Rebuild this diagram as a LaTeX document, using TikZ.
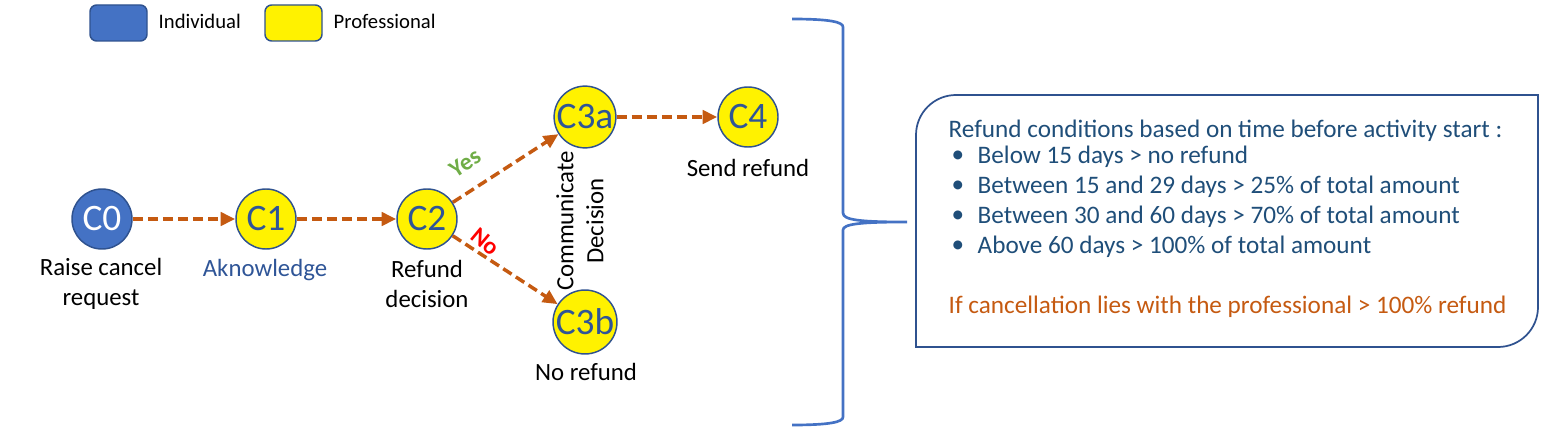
\documentclass[tikz,border=0pt]{standalone}
\usepackage{fontspec}
\setmainfont{Carlito}
\usetikzlibrary{arrows.meta}
\definecolor{indivblue}{HTML}{4472C4}
\definecolor{edgeblue}{HTML}{2F528F}
\definecolor{textblue}{HTML}{2F5597}
\definecolor{boxtext}{HTML}{1F4E79}
\definecolor{flowor}{HTML}{C55A11}
\definecolor{yesgreen}{HTML}{70AD47}
\tikzset{
  indiv/.style={circle, fill=indivblue, draw=edgeblue, line width=1.1pt, minimum size=45pt, inner sep=0pt, text=white, font=\fontsize{28}{30}\selectfont},
  prof/.style={circle, fill=yellow, draw=edgeblue, line width=1.1pt, minimum size=45pt, inner sep=0pt, text=textblue, font=\fontsize{28}{30}\selectfont},
  caption/.style={align=center, font=\fontsize{18.6}{22.5}\selectfont},
  flow/.style={draw=flowor, line width=2.6pt, dash pattern=on 7.5pt off 3.8pt, -{Triangle[length=11pt,width=10pt]}},
  boxline/.style={anchor=west, text=boxtext, font=\fontsize{18.9}{22.5}\selectfont}
}
\begin{document}
\begin{tikzpicture}[x=0.75pt,y=0.75pt]
\useasboundingbox (0,0) rectangle (1556,426);
% legend
\draw[fill=indivblue, draw=edgeblue, line width=1.1pt, rounded corners=5pt] (90,385) rectangle (147,421);
\node[anchor=west, font=\fontsize{15.5}{18}\selectfont] (lindiv) at (154,405) {Individual};
\draw[fill=yellow, draw=edgeblue, line width=1.1pt, rounded corners=5pt] (265,385) rectangle (322,421);
\node[anchor=west, font=\fontsize{15.5}{18}\selectfont] (lprof) at (329,405) {Professional};
% steps
\node[indiv] (C0) at (102,207) {C0};
\node[prof] (C1) at (266,207) {C1};
\node[prof] (C2) at (427,207) {C2};
\node[prof] (C3a) at (585,309) {C3a};
\node[prof] (C4) at (748,309) {C4};
\node[prof] (C3b) at (585,104) {C3b};
\node[caption] (t0) at (101,142) {Raise cancel\\request};
\node[caption, text=textblue] (t1) at (265,156) {Aknowledge};
\node[caption] (t2) at (427,142) {Refund\\decision};
\node[caption] (t4) at (748,258) {Send refund};
\node[caption] (t3b) at (586,54) {No refund};
\node[caption, rotate=90] (t3) at (580,205) {Communicate\\Decision};
% connectors
\draw[flow] (C0) -- (C1);
\draw[flow] (C1) -- (C2);
\draw[flow] (C2) -- (C3a);
\draw[flow] (C2) -- (C3b);
\draw[flow] (C3a) -- (C4);
\node[text=yesgreen, rotate=33, inner sep=0pt, font=\fontsize{18}{18}\selectfont\bfseries] (yes) at (465,263) {Yes};
\node[text=red, rotate=-40, inner sep=0pt, font=\fontsize{18}{18}\selectfont\bfseries] (no) at (485,184) {No};
% brace
\draw[indivblue, line width=2pt] (792,407) .. controls (830,407) and (843,404) .. (843,399) -- (843,213)
  .. controls (843,206) and (860,204) .. (907,204)
  .. controls (860,204) and (843,202) .. (843,196) -- (843,9)
  .. controls (843,4) and (830,1) .. (792,1);
% conditions box
\draw[edgeblue, line width=1.3pt] (916,79) -- (916,291) arc[start angle=180, end angle=90, radius=40] -- (1538,331)
  -- (1538,119) arc[start angle=0, end angle=-90, radius=40] -- cycle;
\node[boxline] (head) at (944,295) {Refund conditions based on time before activity start :};
\foreach \y/\txt in {269/Below 15 days > no refund, 239/Between 15 and 29 days > 25\% of total amount, 209/Between 30 and 60 days > 70\% of total amount, 179/Above 60 days > 100\% of total amount} {
  \node[boxline] at (947,\y) {\textbullet};
  \node[boxline] at (973,\y) {\txt};
}
\node[boxline, text=flowor] (prof) at (944,119) {If cancellation lies with the professional > 100\% refund};
\end{tikzpicture}
\end{document}
